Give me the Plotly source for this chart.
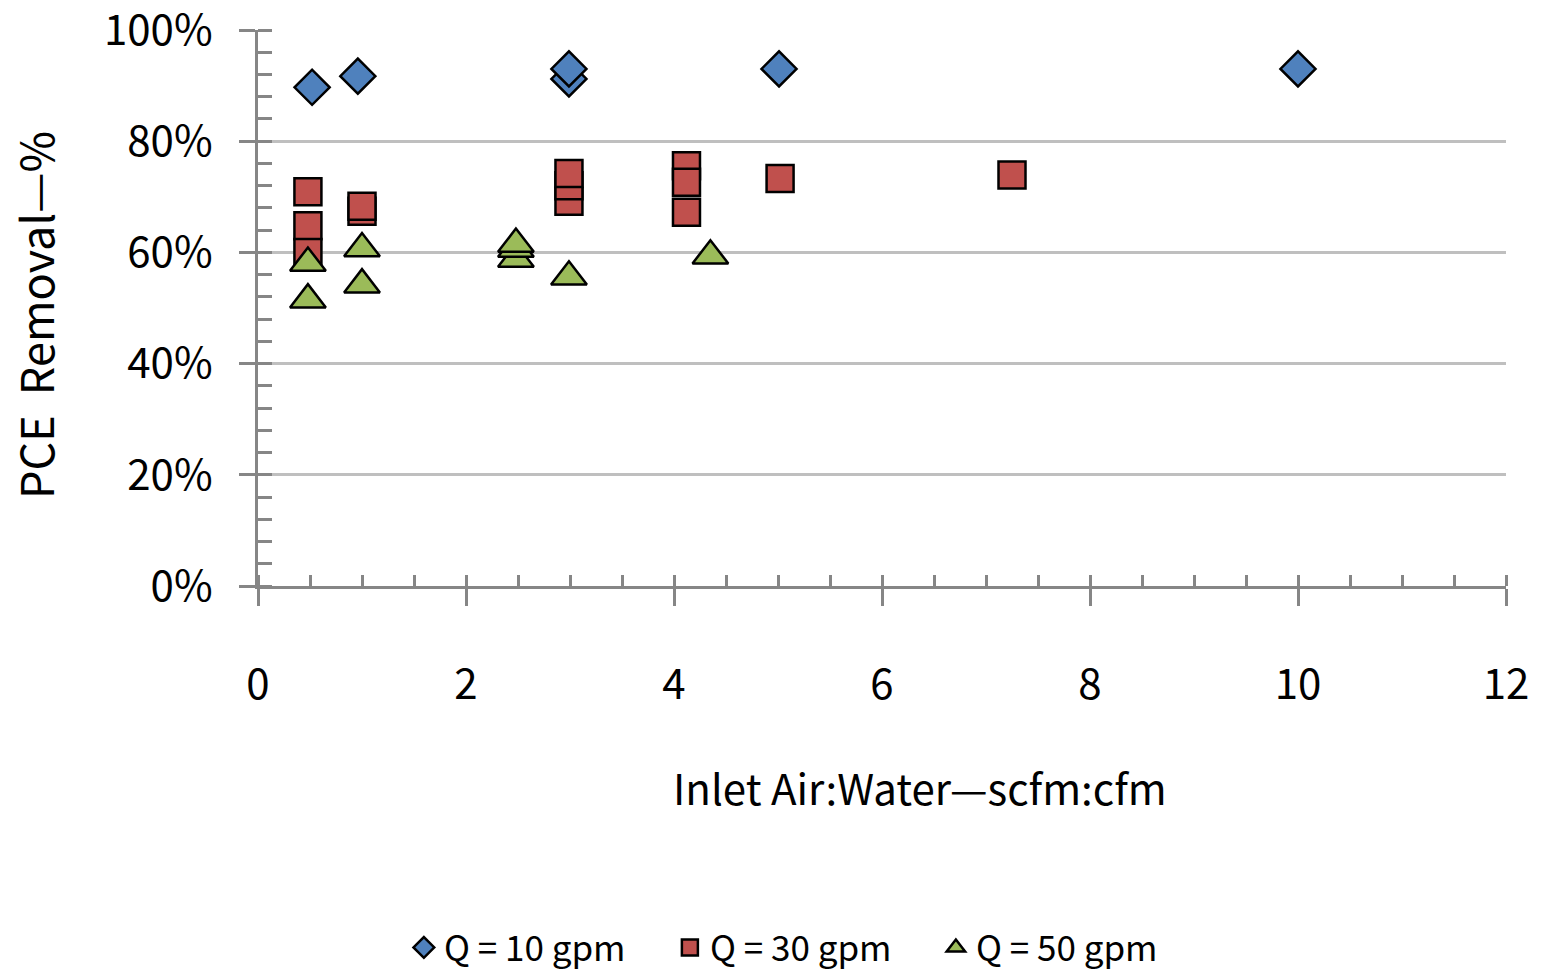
import plotly.graph_objects as go

# Q = 10 gpm
q10_x = [0.52, 0.96, 2.99, 2.99, 5.01, 10.0]
q10_y = [89.7, 91.7, 91.2, 93.0, 93.0, 93.0]
# Q = 30 gpm
q30_x = [0.48, 0.48, 0.48, 1.0, 1.0, 2.99, 2.99, 2.99, 4.12, 4.12, 4.12, 5.02, 7.25]
q30_y = [70.9, 64.8, 60.0, 67.4, 68.3, 69.2, 72.0, 74.2, 75.6, 72.6, 67.2, 73.3, 73.9]
# Q = 50 gpm
q50_x = [0.48, 0.48, 1.0, 1.0, 2.48, 2.48, 2.48, 2.99, 4.35]
q50_y = [58.1, 51.5, 60.7, 54.2, 58.8, 60.6, 61.5, 55.6, 59.4]

series_names = ["Q = 10 gpm", "Q = 30 gpm", "Q = 50 gpm"]
x_ticks = [0, 2, 4, 6, 8, 10, 12]
y_ticks = [0, 20, 40, 60, 80, 100]
y_tick_text = ["0%", "20%", "40%", "60%", "80%", "100%"]
x_title = "Inlet Air:Water—scfm:cfm"
y_title = "PCE  Removal—%"

FONT = "Noto Sans CJK KR"
AX = "#868686"
GRID = "#bfbfbf"

fig = go.Figure()
fig.add_trace(go.Scatter(x=q10_x, y=q10_y, mode="markers", name=series_names[0],
                         marker=dict(symbol="diamond", size=27, color="#4f81bd",
                                     line=dict(color="black", width=2.5))))
fig.add_trace(go.Scatter(x=q30_x, y=q30_y, mode="markers", name=series_names[1],
                         marker=dict(symbol="square", size=27, color="#c0504d",
                                     line=dict(color="black", width=2.5))))
fig.add_trace(go.Scatter(x=q50_x, y=q50_y, mode="markers", name=series_names[2],
                         marker=dict(symbol="triangle-up", size=31, color="#9bbb59",
                                     line=dict(color="black", width=2.5))))

fig.update_layout(
    width=1544, height=972,
    margin=dict(l=258, r=38, t=30, b=386, autoexpand=False),
    paper_bgcolor="white", plot_bgcolor="white",
    font=dict(family=FONT, color="black", size=40),
    showlegend=True,
    legend=dict(orientation="h", xref="container", yref="container",
                x=0.520, xanchor="center", y=0.025, yanchor="middle",
                font=dict(size=35, family=FONT), itemsizing="trace",
                entrywidth=221, traceorder="normal"),
    xaxis=dict(range=[0, 12], tickvals=x_ticks, showgrid=False, zeroline=False,
               automargin=False,
               showline=True, linecolor=AX, linewidth=3,
               ticks="outside", ticklen=17, tickwidth=3, tickcolor=AX,
               ticklabelstandoff=43,
               tickfont=dict(size=42, family=FONT),
               minor=dict(dtick=0.5, ticks="inside", ticklen=11, tickwidth=3,
                          tickcolor=AX, showgrid=False)),
    yaxis=dict(range=[0, 100], tickvals=y_ticks, ticktext=y_tick_text,
               automargin=False,
               showgrid=True, gridcolor=GRID, gridwidth=3, zeroline=False,
               showline=True, linecolor=AX, linewidth=3,
               ticks="outside", ticklen=16, tickwidth=3, tickcolor=AX,
               ticklabelstandoff=18, ticklabeloverflow="allow",
               tickfont=dict(size=42, family=FONT),
               minor=dict(dtick=4, ticks="inside", ticklen=14, tickwidth=3,
                          tickcolor=AX, showgrid=False)),
    annotations=[
        dict(text=x_title, xref="paper", yref="paper", x=0.5304, y=-0.3615,
             xanchor="center", yanchor="middle", showarrow=False,
             font=dict(size=42, family=FONT)),
        dict(text=y_title, xref="paper", yref="paper", x=-0.1795, y=0.4874,
             xanchor="center", yanchor="middle", showarrow=False, textangle=-90,
             font=dict(size=45, family=FONT)),
    ],
)

fig.write_html("out.html", config={"displayModeBar": False},
               post_script="document.body.style.margin='0';")
